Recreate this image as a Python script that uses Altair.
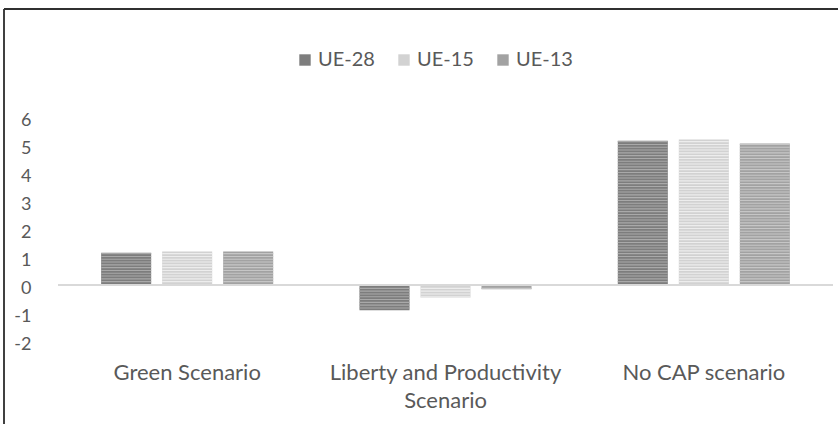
import altair as alt
import pandas as pd

# Scenario results per EU group
scenarios = ["Green Scenario", "Liberty and Productivity Scenario", "No CAP scenario"]
groups = ["UE-28", "UE-15", "UE-13"]
ue28 = [1.15, -0.9, 5.15]
ue15 = [1.2, -0.45, 5.2]
ue13 = [1.2, -0.15, 5.05]

base_colors = ["#7d7d7d", "#d2d2d2", "#a2a2a2"]
stripe_colors = ["#a9a9a9", "#ededed", "#c6c6c6"]

rows = []
for g, vals in zip(groups, [ue28, ue15, ue13]):
    for s, v in zip(scenarios, vals):
        rows.append({"scenario": s, "group": g, "value": v})
df = pd.DataFrame(rows)

FONT = "Lato"
TEXT = "#595959"

x_enc = alt.X(
    "scenario:N",
    sort=scenarios,
    scale=alt.Scale(paddingInner=0, paddingOuter=0),
    axis=alt.Axis(
        title=None, domain=False, ticks=False, labelAngle=0, labelPadding=21,
        labelFont=FONT, labelFontSize=22, labelColor=TEXT, labelLineHeight=28,
        labelLimit=0,
        labelExpr="datum.label == 'Liberty and Productivity Scenario' ? "
                  "['Liberty and Productivity', 'Scenario'] : datum.label",
    ),
)
xoff = alt.XOffset(
    "group:N", sort=groups,
    scale=alt.Scale(paddingInner=0.18, paddingOuter=0.707),
)
y_scale = alt.Scale(domain=[-2, 6], nice=False, zero=False)
y_axis = alt.Axis(
    title=None, values=list(range(-2, 7)), tickCount=9, domain=False,
    ticks=False, grid=False, labelPadding=27, labelFont=FONT,
    labelFontSize=18, labelColor=TEXT, labelOverlap=False, labelOffset=3,
    labelExpr="'' + datum.value",
)

bars = alt.Chart(df).mark_bar().encode(
    x=x_enc,
    xOffset=xoff,
    y=alt.Y("value:Q", scale=y_scale, axis=y_axis),
    color=alt.Color(
        "group:N", sort=groups,
        scale=alt.Scale(domain=groups, range=base_colors),
        legend=alt.Legend(
            title=None, orient="none", direction="horizontal",
            legendX=237, legendY=-67, symbolType="square", symbolSize=130,
            symbolStrokeWidth=0, labelFont=FONT, labelFontSize=20,
            labelColor=TEXT, labelOffset=3, columnPadding=19,
        ),
    ),
)

# thin horizontal stripes laid over each bar
stripes = alt.Chart(df).transform_calculate(
    s="sequence(0, datum.value, datum.value > 0 ? 0.1 : -0.1)"
).transform_flatten(["s"]).transform_calculate(
    s2="datum.value > 0 ? min(datum.s + 0.04, datum.value) : max(datum.s - 0.04, datum.value)"
).mark_bar().encode(
    x=x_enc,
    xOffset=xoff,
    y=alt.Y("s:Q", scale=y_scale, axis=y_axis),
    y2="s2:Q",
    color=alt.Color("group:N", sort=groups,
                    scale=alt.Scale(domain=groups, range=stripe_colors),
                    legend=None),
)

zero_line = alt.Chart(df).mark_rule(color="#d9d9d9", strokeWidth=2).encode(
    y=alt.Y(datum=0, scale=y_scale, axis=y_axis)
)

# outer frame edges
frame_left = alt.Chart(df).mark_rule(color="#404040", strokeWidth=1.5).encode(
    x=alt.value(-54), y=alt.value(-108), y2=alt.value(320)
)
frame_top = alt.Chart(df).mark_rule(color="#303030", strokeWidth=1.5).encode(
    x=alt.value(-54), x2=alt.value(790), y=alt.value(-108)
)

chart = alt.layer(bars, stripes, zero_line, frame_left, frame_top).resolve_scale(
    color="independent"
).properties(
    width=775, height=224,
    autosize=alt.AutoSizeParams(type="none"),
    padding={"left": 58, "top": 117, "right": 5, "bottom": 83},
    background="white",
).configure_view(stroke=None)

chart.save("out.html", embed_options={"renderer": "svg", "actions": False})
